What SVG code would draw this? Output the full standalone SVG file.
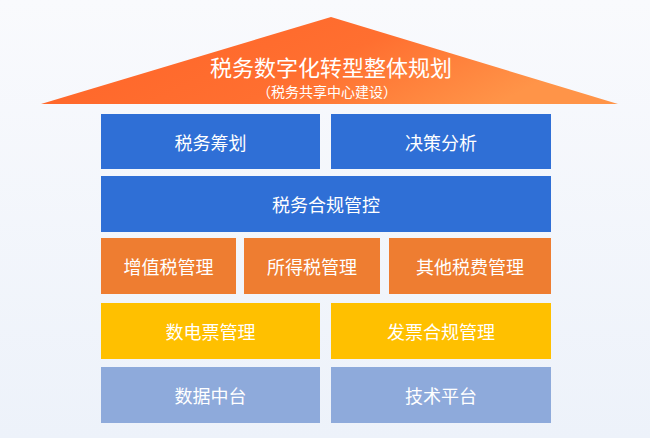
<svg xmlns="http://www.w3.org/2000/svg" width="650" height="438" viewBox="0 0 650 438">
<defs>
<linearGradient id="bg" x1="0" y1="0" x2="0" y2="1">
<stop offset="0" stop-color="#F9FAFD"/>
<stop offset="1" stop-color="#EDF2FA"/>
</linearGradient>
<linearGradient id="roof" x1="0" y1="0" x2="1" y2="0.3">
<stop offset="0" stop-color="#FF6328"/>
<stop offset="0.6" stop-color="#FF6F30"/>
<stop offset="1" stop-color="#FF9448"/>
</linearGradient>
<style>
.t{font-family:"Noto Sans CJK SC","Noto Sans",sans-serif;fill:#FFFFFF;text-anchor:middle;dominant-baseline:central;font-size:18px}
.blue{fill:#2F6FD6}
.orange{fill:#EE7D31}
.yellow{fill:#FFC000}
.light{fill:#8EAADB}
</style>
</defs>
<rect x="0" y="0" width="650" height="438" fill="url(#bg)"/>
<g id="roof-node">
<polygon points="331,17 618,104 41,104" fill="url(#roof)"/>
<text class="t" x="331" y="66" style="font-size:22px">税务数字化转型整体规划</text>
<text class="t" x="327" y="91" style="font-size:14px">（税务共享中心建设）</text>
</g>
<g id="n-tax-plan"><rect class="blue" x="101" y="114" width="219" height="55"/><text class="t" x="210.5" y="141.5">税务筹划</text></g>
<g id="n-decision"><rect class="blue" x="331" y="114" width="220" height="55"/><text class="t" x="441" y="141.5">决策分析</text></g>
<g id="n-compliance"><rect class="blue" x="101" y="176" width="450" height="56"/><text class="t" x="326" y="204">税务合规管控</text></g>
<g id="n-vat"><rect class="orange" x="101" y="238" width="135" height="56"/><text class="t" x="168.5" y="266">增值税管理</text></g>
<g id="n-income"><rect class="orange" x="244" y="238" width="136" height="56"/><text class="t" x="312" y="266">所得税管理</text></g>
<g id="n-other"><rect class="orange" x="389" y="238" width="162" height="56"/><text class="t" x="470" y="266">其他税费管理</text></g>
<g id="n-einvoice"><rect class="yellow" x="101" y="303" width="219" height="56"/><text class="t" x="210.5" y="331">数电票管理</text></g>
<g id="n-invoice-compliance"><rect class="yellow" x="331" y="303" width="220" height="56"/><text class="t" x="441" y="331">发票合规管理</text></g>
<g id="n-data"><rect class="light" x="101" y="367" width="219" height="56"/><text class="t" x="210.5" y="395">数据中台</text></g>
<g id="n-tech"><rect class="light" x="331" y="367" width="220" height="56"/><text class="t" x="441" y="395">技术平台</text></g>
<g id="connectors"></g>
</svg>
